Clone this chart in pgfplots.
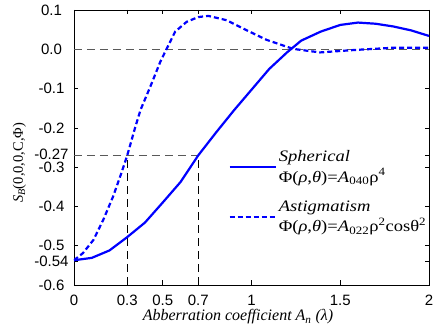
\documentclass[border=0pt]{standalone}
\usepackage{fontspec}
\setmainfont{Liberation Serif}
\newfontfamily\arial{Liberation Sans}
\newfontfamily\legfont[FakeStretch=1.16]{Liberation Serif}
\usepackage{pgfplots}
\pgfplotsset{compat=1.18}
\begin{document}
\begin{tikzpicture}
\begin{axis}[
  scale only axis,
  width=355pt, height=275pt,
  xmin=0, xmax=2, ymin=-0.6, ymax=0.1,
  axis line style={line width=0.8pt},
  tick align=inside,
  major tick length=4.5pt,
  tick style={black, line width=0.6pt},
  xtick={0,0.3,0.5,0.7,1,1.5,2},
  xticklabels={0,0.3,0.5,0.7,1,1.5,2},
  ytick={-0.6,-0.54,-0.5,-0.4,-0.3,-0.27,-0.2,-0.1,0,0.1},
  yticklabels={-0.6,-0.54,-0.5,-0.4,\raisebox{-1.5pt}{-0.3},\raisebox{3pt}{-0.27},-0.2,-0.1,0.0,0.1},
  ticklabel style={font=\arial\fontsize{15}{16}\selectfont},
  yticklabel style={anchor=center, xshift=-22.5pt, inner sep=0pt},
  xticklabel style={anchor=center, yshift=-15.5pt},
  xlabel={\itshape Abberration coefficient A\textsubscript{n} (λ)},
  ylabel={{\itshape S\textsubscript{B}}(0,0,0,C,Φ)},
  xlabel style={font=\fontsize{16}{17}\selectfont, at={(rel axis cs:0.462,0)}, anchor=center, yshift=-32pt},
  ylabel style={font=\fontsize{14.5}{15}\selectfont, at={(rel axis cs:0,0.444)}, anchor=center, yshift=54.5pt},
  legend cell align=left,
  legend style={draw=none, fill=none, at={(axis cs:0.87,-0.252)}, anchor=north west,
    font=\legfont\fontsize{16}{20.5}\selectfont, row sep=13pt, cells={align=left}, inner sep=0pt},
  legend image code/.code={\draw[#1] (0pt,0pt) -- (46pt,0pt);},
]
\coordinate (ll) at (rel axis cs:0,0);
\coordinate (ur) at (rel axis cs:1,1);
% reference lines
\addplot[forget plot, gray!70!black, line width=0.8pt, dash pattern=on 8pt off 5pt] coordinates {(0,0) (2,0)};
\addplot[forget plot, gray!70!black, line width=0.8pt, dash pattern=on 8pt off 5pt] coordinates {(0,-0.27) (0.7,-0.27)};
\addplot[forget plot, black, line width=0.8pt, dash pattern=on 8pt off 5pt] coordinates {(0.3,-0.6) (0.3,-0.27)};
\addplot[forget plot, black, line width=0.8pt, dash pattern=on 8pt off 5pt] coordinates {(0.7,-0.6) (0.7,-0.27)};
% spherical
\addplot[blue, line width=2.2pt] coordinates {
(0,-0.537) (0.1,-0.531) (0.2,-0.512) (0.3,-0.478) (0.4,-0.441) (0.5,-0.39)
(0.6,-0.338) (0.7,-0.27) (0.8,-0.212) (0.9,-0.156) (1.0,-0.103) (1.1,-0.05)
(1.2,-0.008) (1.28,0.022) (1.39,0.045) (1.5,0.062) (1.6,0.068) (1.7,0.065)
(1.8,0.058) (1.9,0.048) (2.0,0.034)};
\addlegendentry{\textit{Spherical}\\Φ(\textit{ρ},\textit{θ})=\textit{A}\textsubscript{040}ρ\textsuperscript{4}}
% astigmatism
\addplot[blue, line width=2.2pt, dash pattern=on 5pt off 3pt] coordinates {
(0,-0.537) (0.05,-0.519) (0.11,-0.485) (0.165,-0.434) (0.22,-0.375) (0.26,-0.324)
(0.3,-0.27) (0.344,-0.2) (0.375,-0.154) (0.43,-0.095) (0.487,-0.031) (0.524,0.003)
(0.57,0.045) (0.635,0.07) (0.7,0.082) (0.757,0.085) (0.86,0.074) (0.97,0.049)
(1.085,0.024) (1.235,0.001) (1.386,-0.008) (1.573,-0.002) (1.8,0.004) (2.0,0.004)};
\addlegendentry{\textit{Astigmatism}\\Φ(\textit{ρ},\textit{θ})=\textit{A}\textsubscript{022}ρ\textsuperscript{2}cosθ\textsuperscript{2}}
\end{axis}
\pgfresetboundingbox
\path ([shift={(-74pt,-46pt)}]ll) rectangle ([shift={(5pt,10pt)}]ur);
\end{tikzpicture}
\end{document}
